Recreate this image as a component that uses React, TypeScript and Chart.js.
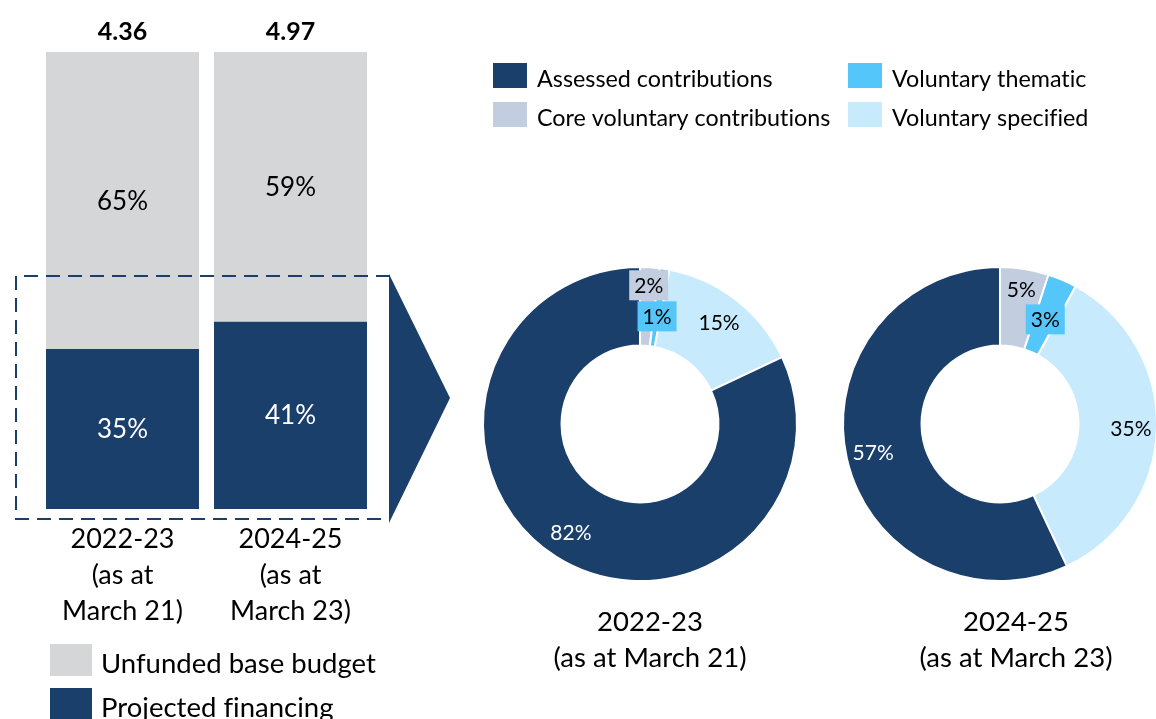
import { useEffect, useRef } from 'react';
import { Chart, registerables } from 'chart.js';

Chart.register(...registerables);

const W = 1156;
const H = 719;
const FONT = 'Lato, "Noto Sans", sans-serif';

const NAVY = '#1b3f6b';
const GRAY = '#d5d6d8';
const CORE = '#c3cde0';
const THEMATIC = '#55c6fa';
const SPECIFIED = '#c7ebfd';

// ---- Bar chart data ----
const barCategories = ['2022-23 (as at March 21)', '2024-25 (as at March 23)'];
const barCategoryLines = [
  ['2022-23', '(as at', 'March 21)'],
  ['2024-25', '(as at', 'March 23)'],
];
const barTotals = ['4.36', '4.97'];
const projectedFinancing = [35, 41];
const unfundedBaseBudget = [65, 59];
const barSeriesNames = ['Projected financing', 'Unfunded base budget'];

// ---- Doughnut data ----
const donutCategories = [
  'Core voluntary contributions',
  'Voluntary thematic',
  'Voluntary specified',
  'Assessed contributions',
];
const donut2022 = [2, 1, 15, 82];
const donut2024 = [5, 3, 35, 57];
const donutTitles = [
  ['2022-23', '(as at March 21)'],
  ['2024-25', '(as at March 23)'],
];
const donutLegendOrder = [3, 0, 1, 2];

// ---- styles ----
const donutColors = [CORE, THEMATIC, SPECIFIED, NAVY];
const donutLabelColors = ['#000', '#000', '#000', '#fff'];

function noLig(ctx: any) {
  try {
    ctx.letterSpacing = '0.01px';
  } catch (e) {
    /* ignore */
  }
}

const barPlugin = {
  id: 'barDecor',
  afterDatasetsDraw(chart: any) {
    const { ctx, chartArea } = chart;
    ctx.save();
    // dashed frame
    ctx.strokeStyle = NAVY;
    ctx.lineWidth = 2;
    ctx.setLineDash([14, 8]);
    ctx.beginPath();
    ctx.moveTo(390, 276);
    ctx.lineTo(16, 276);
    ctx.lineTo(16, 519);
    ctx.lineTo(390, 519);
    ctx.stroke();
    ctx.setLineDash([]);
    // arrow
    ctx.fillStyle = NAVY;
    ctx.beginPath();
    ctx.moveTo(389, 274);
    ctx.lineTo(450, 398);
    ctx.lineTo(389, 523);
    ctx.closePath();
    ctx.fill();

    noLig(ctx);
    // segment labels
    ctx.textAlign = 'center';
    ctx.textBaseline = 'alphabetic';
    ctx.font = `26px ${FONT}`;
    chart.data.datasets.forEach((ds: any, i: number) => {
      const meta = chart.getDatasetMeta(i);
      meta.data.forEach((el: any, j: number) => {
        const { x, y, base } = el.getProps(['x', 'y', 'base'], true);
        ctx.fillStyle = i === 0 ? '#ffffff' : '#000000';
        ctx.fillText(`${ds.data[j]}%`, x, (y + base) / 2 + 9);
      });
    });

    // totals
    ctx.font = `bold 25px ${FONT}`;
    ctx.fillStyle = '#000';
    const topMeta = chart.getDatasetMeta(chart.data.datasets.length - 1);
    topMeta.data.forEach((el: any, j: number) => {
      ctx.fillText(barTotals[j], el.x, el.y - 12);
    });

    // category labels
    ctx.font = `27px ${FONT}`;
    barCategoryLines.forEach((lines, j) => {
      const x = chart.scales.x.getPixelForValue(j);
      lines.forEach((line, k) => ctx.fillText(line, x, chartArea.bottom + 39 + k * 36));
    });

    // legend
    ctx.textAlign = 'left';
    ctx.font = `27.5px ${FONT}`;
    const order = [1, 0];
    order.forEach((di, k) => {
      const ds = chart.data.datasets[di];
      const y0 = 644 + k * 44;
      ctx.fillStyle = ds.backgroundColor;
      ctx.fillRect(50, y0, 42, 32);
      ctx.fillStyle = '#000';
      ctx.fillText(ds.label, 101, y0 + 29);
    });
    ctx.restore();
  },
};

function makeDonutPlugin(
  titleLines: string[],
  labelRadius: number[],
  labelBoxed: boolean[],
  titleShift: number,
  drawLegend: boolean
) {
  return {
    id: 'donutDecor',
    afterDatasetsDraw(chart: any) {
      const { ctx, chartArea } = chart;
      const ds = chart.data.datasets[0];
      const meta = chart.getDatasetMeta(0);
      ctx.save();
      noLig(ctx);
      ctx.font = `21px ${FONT}`;
      ctx.textAlign = 'center';
      ctx.textBaseline = 'alphabetic';
      meta.data.forEach((arc: any, i: number) => {
        const { x, y, startAngle, endAngle } = arc.getProps(['x', 'y', 'startAngle', 'endAngle'], true);
        const mid = (startAngle + endAngle) / 2;
        const r = labelRadius[i];
        const lx = x + Math.cos(mid) * r;
        const ly = y + Math.sin(mid) * r;
        const text = `${ds.data[i]}%`;
        if (labelBoxed[i]) {
          const w = ctx.measureText(text).width + 10;
          ctx.fillStyle = ds.backgroundColor[i];
          ctx.fillRect(lx - w / 2, ly - 15, w, 30);
        }
        ctx.fillStyle = donutLabelColors[i];
        ctx.fillText(text, lx, ly + 7.5);
      });

      // title
      ctx.font = `27.5px ${FONT}`;
      ctx.fillStyle = '#000';
      const cx = meta.data[0].x + titleShift;
      titleLines.forEach((line, k) => ctx.fillText(line, cx, chartArea.bottom + 50 + k * 36));

      if (drawLegend) {
        const cols = [493, 848];
        const rows = [63, 102];
        ctx.textAlign = 'left';
        ctx.font = `23.3px ${FONT}`;
        donutLegendOrder.forEach((di, k) => {
          const x0 = cols[Math.floor(k / 2)];
          const y0 = rows[k % 2];
          ctx.fillStyle = ds.backgroundColor[di];
          ctx.fillRect(x0, y0, 34, 25);
          ctx.fillStyle = '#000';
          ctx.fillText(chart.data.labels[di], x0 + 44, y0 + 24);
        });
      }
      ctx.restore();
    },
  };
}

function donutConfig(values: number[], padding: any, plugin: any): any {
  return {
    type: 'doughnut',
    data: {
      labels: donutCategories,
      datasets: [
        {
          data: values,
          backgroundColor: donutColors,
          borderColor: '#ffffff',
          borderWidth: 2,
          radius: 157,
          cutout: '50%',
          clip: false,
        },
      ],
    },
    options: {
      responsive: false,
      animation: false,
      events: [],
      layout: { padding },
      plugins: { legend: { display: false }, tooltip: { enabled: false } },
    },
    plugins: [plugin],
  };
}

export default function App() {
  const barRef = useRef<HTMLCanvasElement>(null);
  const d1Ref = useRef<HTMLCanvasElement>(null);
  const d2Ref = useRef<HTMLCanvasElement>(null);

  useEffect(() => {
    const bar = new Chart(barRef.current as HTMLCanvasElement, {
      type: 'bar',
      data: {
        labels: barCategories,
        datasets: [
          { label: barSeriesNames[0], data: projectedFinancing, backgroundColor: NAVY, borderWidth: 0 },
          { label: barSeriesNames[1], data: unfundedBaseBudget, backgroundColor: GRAY, borderWidth: 0 },
        ],
      },
      options: {
        responsive: false,
        animation: false,
        events: [],
        layout: { padding: { left: 38.5, right: W - 374.5, top: 52, bottom: H - 509 } },
        datasets: { bar: { barPercentage: 153 / 168, categoryPercentage: 1 } },
        scales: {
          x: { display: false, stacked: true },
          y: { display: false, stacked: true, min: 0, max: 100 },
        },
        plugins: { legend: { display: false }, tooltip: { enabled: false } },
      } as any,
      plugins: [barPlugin as any],
    });

    const d1 = new Chart(
      d1Ref.current as HTMLCanvasElement,
      donutConfig(
        donut2022,
        { left: 483, right: W - 797, top: 267, bottom: H - 581 },
        makeDonutPlugin(donutTitles[0], [139, 109, 129, 129], [true, true, false, false], 10, true)
      )
    );
    const d2 = new Chart(
      d2Ref.current as HTMLCanvasElement,
      donutConfig(
        donut2024,
        { left: 844, right: 0, top: 267, bottom: H - 581 },
        makeDonutPlugin(donutTitles[1], [136, 114, 131, 130], [false, true, false, false], 16, false)
      )
    );
    return () => {
      bar.destroy();
      d1.destroy();
      d2.destroy();
    };
  }, []);

  const cs: any = { position: 'absolute', left: 0, top: 0, width: W, height: H };
  return (
    <div style={{ position: 'fixed', left: 0, top: 0, width: W, height: H, background: '#fff', overflow: 'hidden' }}>
      <canvas ref={barRef} width={W} height={H} style={cs} />
      <canvas ref={d1Ref} width={W} height={H} style={cs} />
      <canvas ref={d2Ref} width={W} height={H} style={cs} />
    </div>
  );
}
